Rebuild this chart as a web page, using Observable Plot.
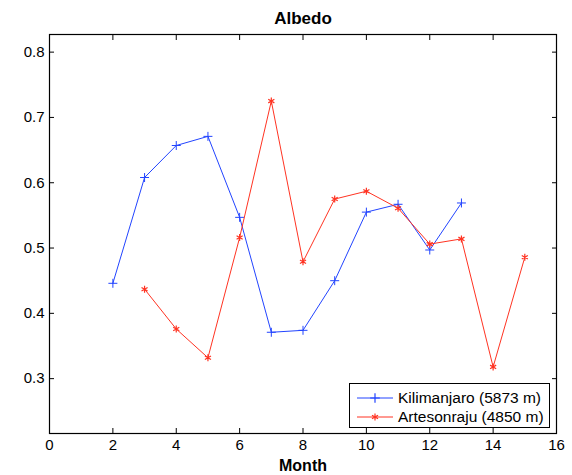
<!DOCTYPE html>
<html>
<head>
<meta charset="utf-8">
<script src="https://cdn.jsdelivr.net/npm/d3@7"></script>
<script src="https://cdn.jsdelivr.net/npm/@observablehq/plot@0.6"></script>
<style>
  html, body { margin: 0; padding: 0; background: #fff; }
  #wrap { position: relative; width: 572px; height: 475px; font-family: Helvetica, Arial, "Liberation Sans", sans-serif; }
  #legend { position: absolute; left: 349px; top: 383px; width: 199px; height: 43px; border: 1px solid #000; background: #fff; font-size: 15.5px; color: #000; }
  .row { position: absolute; left: 0; height: 20px; display: flex; align-items: center; }
  .row svg { margin-left: 7px; margin-right: 5px; }
</style>
</head>
<body>
<div id="wrap"></div>
<script>
const title = "Albedo";
const xLabel = "Month";
const xTicks = [0, 2, 4, 6, 8, 10, 12, 14, 16];
const yTicks = [0.3, 0.4, 0.5, 0.6, 0.7, 0.8];

const kiliName = "Kilimanjaro (5873 m)";
const kiliMonths = [2, 3, 4, 5, 6, 7, 8, 9, 10, 11, 12, 13];
const kiliAlbedo = [0.446, 0.608, 0.657, 0.671, 0.547, 0.371, 0.374, 0.450, 0.555, 0.567, 0.497, 0.569];

const artesName = "Artesonraju (4850 m)";
const artesMonths = [3, 4, 5, 6, 7, 8, 9, 10, 11, 12, 13, 14, 15];
const artesAlbedo = [0.437, 0.376, 0.332, 0.516, 0.725, 0.479, 0.575, 0.587, 0.561, 0.506, 0.514, 0.318, 0.486];

const blue = "#2244ff";
const red = "#ff3322";

const kili = kiliMonths.map((m, i) => ({month: m, albedo: kiliAlbedo[i]}));
const artes = artesMonths.map((m, i) => ({month: m, albedo: artesAlbedo[i]}));

const font = 'Helvetica, Arial, "Liberation Sans", sans-serif';

const chart = Plot.plot({
  width: 572,
  height: 475,
  marginLeft: 49,
  marginRight: 16,
  marginTop: 34,
  marginBottom: 42,
  style: {fontFamily: font, fontSize: "15px", color: "#000", background: "#fff"},
  x: {domain: [0, 16]},
  y: {domain: [0.216, 0.827]},
  marks: [
    Plot.frame({stroke: "#000", strokeWidth: 1.2}),
    Plot.axisX(xTicks, {anchor: "bottom", tickSize: 0, tickPadding: 6, label: null, fontSize: 15}),
    Plot.axisY(yTicks, {anchor: "left", tickSize: 0, tickPadding: 5, label: null, fontSize: 15, tickFormat: d3.format(".1f")}),
    Plot.axisX(xTicks, {anchor: "bottom", tickSize: -5, tickFormat: () => "", label: null}),
    Plot.axisX(xTicks, {anchor: "top", tickSize: -5, tickFormat: () => "", label: null}),
    Plot.axisY(yTicks, {anchor: "left", tickSize: -5, tickFormat: () => "", label: null}),
    Plot.axisY(yTicks, {anchor: "right", tickSize: -5, tickFormat: () => "", label: null}),
    Plot.line(kili, {x: "month", y: "albedo", stroke: blue, strokeWidth: 1}),
    Plot.dot(kili, {x: "month", y: "albedo", symbol: "plus", stroke: blue, strokeWidth: 1, r: 3}),
    Plot.line(artes, {x: "month", y: "albedo", stroke: red, strokeWidth: 1}),
    Plot.dot(artes, {x: "month", y: "albedo", symbol: "asterisk", stroke: red, strokeWidth: 1.2, r: 3.3}),
    Plot.text([title], {frameAnchor: "top", lineAnchor: "middle", dy: -16, fontWeight: "bold", fontSize: 17, fill: "#000"}),
    Plot.text([xLabel], {frameAnchor: "bottom", lineAnchor: "middle", dy: 32, fontWeight: "bold", fontSize: 16, fill: "#000"})
  ]
});

const wrap = document.getElementById("wrap");
wrap.appendChild(chart);

// legend
const legend = document.createElement("div");
legend.id = "legend";
const series = [
  {name: kiliName, color: blue, symbol: d3.symbolPlus, size: 32},
  {name: artesName, color: red, symbol: d3.symbolAsterisk, size: 34}
];
series.forEach((s, i) => {
  const row = document.createElement("div");
  row.className = "row";
  row.style.top = (4 + i * 19) + "px";
  const svg = d3.create("svg").attr("width", 36).attr("height", 20);
  svg.append("line").attr("x1", 0).attr("x2", 36).attr("y1", 10).attr("y2", 10).attr("stroke", s.color).attr("stroke-width", 1);
  svg.append("path").attr("d", d3.symbol(s.symbol, s.size)()).attr("transform", "translate(18,10)").attr("stroke", s.color).attr("fill", "none").attr("stroke-width", 1.2);
  row.appendChild(svg.node());
  const span = document.createElement("span");
  span.textContent = s.name;
  row.appendChild(span);
  legend.appendChild(row);
});
wrap.appendChild(legend);
</script>
</body>
</html>
